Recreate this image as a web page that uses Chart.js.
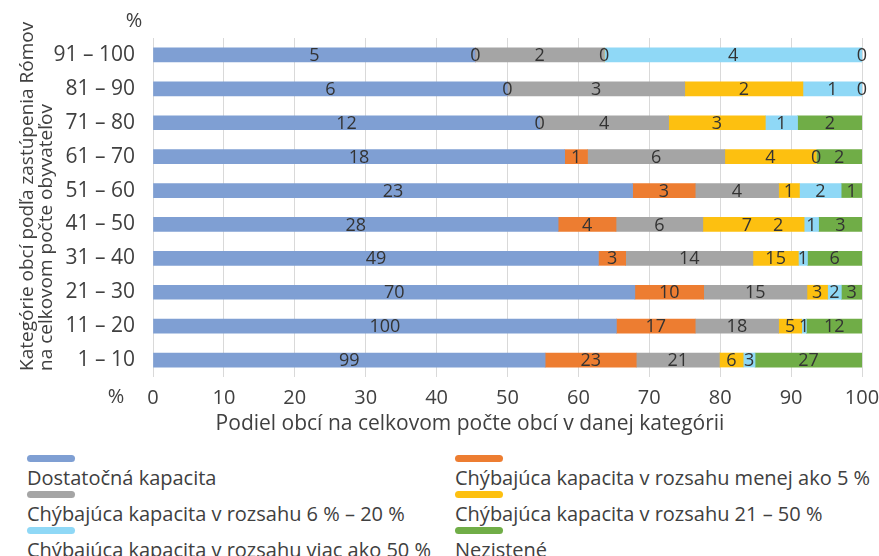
<!DOCTYPE html>
<html lang="sk">
<head>
<meta charset="utf-8">
<script src="https://cdn.jsdelivr.net/npm/chart.js@4"></script>
<style>
body { margin: 0; background: #fff; font-family: "Open Sans", sans-serif; color: #404040; }
#wrap { position: relative; width: 879px; height: 556px; overflow: hidden; }
#chart { position: absolute; left: 0; top: 0; }
.leg { position: absolute; font-size: 20px; white-space: nowrap; line-height: 20px; }
.leg i { display: block; width: 48px; height: 7px; border-radius: 4px; margin-bottom: 6px; }
</style>
</head>
<body>
<div id="wrap">
  <canvas id="chart" width="879" height="440"></canvas>
  <div id="legend"></div>
</div>
<script>
// categories (top to bottom)
const categories = ["91 – 100", "81 – 90", "71 – 80", "61 – 70", "51 – 60", "41 – 50", "31 – 40", "21 – 30", "11 – 20", "1 – 10"];

// number of municipalities per capacity group
const dostatocna = [5, 6, 12, 18, 23, 28, 49, 70, 100, 99];
const menej5     = [0, 0, 0, 1, 3, 4, 3, 10, 17, 23];
const r6to20     = [2, 3, 4, 6, 4, 6, 14, 15, 18, 21];
const r21to50    = [0, 2, 3, 4, 1, 7, 5, 3, 5, 6];
const viac50     = [4, 1, 1, 0, 2, 1, 1, 2, 1, 3];
const nezistene  = [0, 0, 2, 2, 1, 3, 6, 3, 12, 27];

// labels as printed in the source (it shows a couple of odd ones)
const r21to50Labels = ["0", "2", "3", "4", "1", "\u20037\u2003\u20092", "15", "3", "5", "6"];

const xTicks = [0, 10, 20, 30, 40, 50, 60, 70, 80, 90, 100];

const series = [
    { label: "Dostatočná kapacita", data: dostatocna, color: "#7f9fd3" },
    { label: "Chýbajúca kapacita v rozsahu menej ako 5 %", data: menej5, color: "#ed7d31" },
    { label: "Chýbajúca kapacita v rozsahu 6 % – 20 %", data: r6to20, color: "#a5a5a5" },
    { label: "Chýbajúca kapacita v rozsahu 21 – 50 %", data: r21to50, color: "#fdc010", text: r21to50Labels },
    { label: "Chýbajúca kapacita v rozsahu viac ako 50 %", data: viac50, color: "#8fd8f6" },
    { label: "Nezistené", data: nezistene, color: "#70ad47" },
];

const totals = categories.map((c, i) => series.reduce((s, d) => s + d.data[i], 0));

const FONT = "'Open Sans', sans-serif";
const TXT = "#404040";

const labelsPlugin = {
    id: "labels",
    afterDatasetsDraw(chart) {
        const ctx = chart.ctx;
        ctx.save();
        ctx.font = "18px " + FONT;
        ctx.fillStyle = "#333";
        ctx.textAlign = "center";
        ctx.textBaseline = "middle";
        chart.data.datasets.forEach((ds, di) => {
            const meta = chart.getDatasetMeta(di);
            meta.data.forEach((bar, i) => {
                const s = series[di];
                const txt = s.text ? s.text[i] : String(s.data[i]);
                ctx.fillText(txt, (bar.x + bar.base) / 2, bar.y + 1);
            });
        });
        ctx.restore();
    },
    afterDraw(chart) {
        const ctx = chart.ctx;
        ctx.save();
        ctx.fillStyle = TXT;
        ctx.font = "20px " + FONT;
        ctx.textBaseline = "middle";
        ctx.textAlign = "center";
        ctx.fillText("%", 134, 21);
        ctx.fillText("%", 116, 397);
        ctx.font = "21px " + FONT;
        ctx.fillText("Podiel obcí na celkovom počte obcí v danej kategórii", 470, 424);
        // y axis title, two rotated lines
        ctx.font = "19px " + FONT;
        ctx.textAlign = "left";
        ctx.translate(0, 371);
        ctx.rotate(-Math.PI / 2);
        ctx.fillText("Kategórie obcí podľa zastúpenia Rómov", 0, 28);
        ctx.fillText("na celkovom počte obyvateľov", 0, 47);
        ctx.restore();
    }
};

new Chart(document.getElementById("chart"), {
    type: "bar",
    data: {
        labels: categories,
        datasets: series.map(s => ({
            label: s.label,
            data: s.data.map((v, i) => v / totals[i] * 100),
            backgroundColor: s.color,
            barThickness: 14,
            borderWidth: 0,
        })),
    },
    options: {
        indexAxis: "y",
        responsive: false,
        animation: false,
        layout: { padding: { top: 38, right: 17, bottom: 33, left: 0 } },
        plugins: {
            legend: { display: false },
            tooltip: { enabled: false },
        },
        scales: {
            x: {
                stacked: true,
                min: 0,
                max: 100,
                afterBuildTicks(scale) { scale.ticks = xTicks.map(v => ({ value: v })); },
                grid: { color: "#d9d9d9", drawTicks: false },
                border: { display: false },
                ticks: { padding: 9, color: TXT, font: { size: 20, family: FONT } },
                afterFit(scale) {
                    scale.height = 30;
                    scale.paddingLeft = 0;
                    scale.paddingRight = 0;
                },
            },
            y: {
                stacked: true,
                grid: { display: false },
                border: { display: false },
                ticks: { padding: 10, color: TXT, font: { size: 21, family: FONT } },
                afterFit(scale) { scale.width = 153; },
            },
        },
    },
    plugins: [labelsPlugin],
});

// legend: two columns, row by row
const legend = document.getElementById("legend");
series.forEach((s, i) => {
    const el = document.createElement("div");
    el.className = "leg";
    el.style.left = (i % 2 === 0 ? 27 : 455) + "px";
    el.style.top = (455 + Math.floor(i / 2) * 36) + "px";
    el.innerHTML = '<i style="background:' + s.color + '"></i>' + s.label;
    legend.appendChild(el);
});
</script>
</body>
</html>
